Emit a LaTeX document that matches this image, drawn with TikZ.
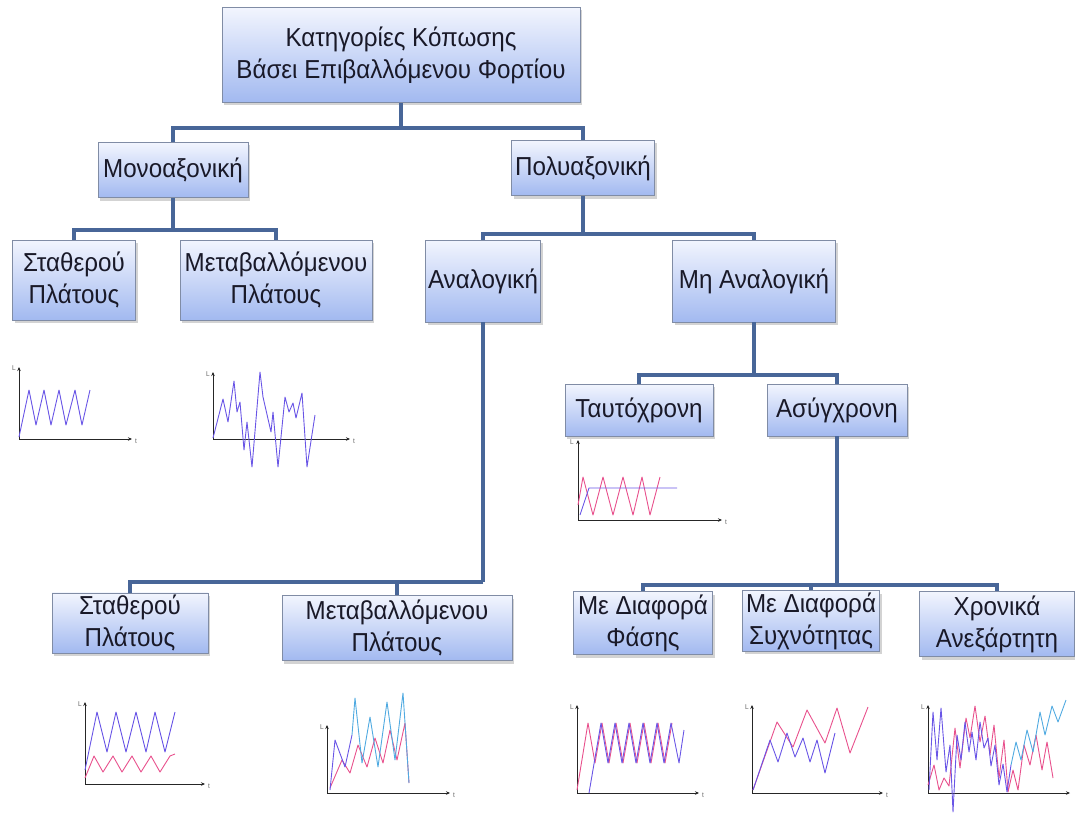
\documentclass[tikz,border=0pt]{standalone}
\usepackage{fontspec}
\setmainfont{Liberation Sans}[FakeStretch=0.93]
\usetikzlibrary{shadows,arrows.meta}
\definecolor{boxtop}{RGB}{242,245,254}
\definecolor{boxbot}{RGB}{162,185,240}
\definecolor{boxedge}{RGB}{128,140,165}
\definecolor{connc}{RGB}{72,102,152}
\definecolor{txtc}{RGB}{25,25,40}
\definecolor{gpurple}{RGB}{105,85,230}
\definecolor{gpink}{RGB}{232,80,140}
\definecolor{gcyan}{RGB}{80,170,225}
\tikzset{
  box/.style={draw=boxedge, line width=0.8pt, top color=boxtop, bottom color=boxbot,
    drop shadow={shadow xshift=2pt, shadow yshift=-3pt, opacity=0.35},
    align=center, text=txtc, inner sep=2pt, font=\fontsize{26}{32}\selectfont},
  conn/.style={draw=connc, line width=3.5pt},
  axis/.style={draw=black!85, line width=0.9pt, -{Stealth[length=4pt,width=3.5pt]}},
  axlab/.style={font=\fontsize{7}{8}\selectfont, text=black!60, inner sep=0pt},
  gline/.style={line width=0.9pt, line join=round}
}
\begin{document}
\begin{tikzpicture}[x=1pt,y=-1pt]
\useasboundingbox (0,0) rectangle (1075,813);
% ---------- boxes ----------
\node[box, minimum width=358pt, minimum height=95pt] (root) at (401,55) {Κατηγορίες Κόπωσης\\Βάσει Επιβαλλόμενου Φορτίου};
\node[box, minimum width=150pt, minimum height=55pt] (mono) at (173,170) {Μονοαξονική};
\node[box, minimum width=143pt, minimum height=55pt] (poly) at (583,168) {Πολυαξονική};
\node[box, minimum width=123pt, minimum height=80pt] (s1) at (74,280) {Σταθερού\\Πλάτους};
\node[box, minimum width=192pt, minimum height=80pt] (m1) at (276,280) {Μεταβαλλόμενου\\Πλάτους};
\node[box, minimum width=115pt, minimum height=82pt] (anal) at (483,281) {Αναλογική};
\node[box, minimum width=163pt, minimum height=82pt] (nanal) at (754,281) {Μη Αναλογική};
\node[box, minimum width=148pt, minimum height=52pt] (tauto) at (639,410) {Ταυτόχρονη};
\node[box, minimum width=140pt, minimum height=52pt] (async) at (837,410) {Ασύγχρονη};
\node[box, minimum width=156pt, minimum height=55pt] (s2) at (130,623) {Σταθερού\\Πλάτους};
\node[box, minimum width=230pt, minimum height=65pt] (m2) at (397,628) {Μεταβαλλόμενου\\Πλάτους};
\node[box, minimum width=139pt, minimum height=63pt] (phase) at (643,623) {Με Διαφορά\\Φάσης};
\node[box, minimum width=137pt, minimum height=58pt] (freq) at (811,621) {Με Διαφορά\\Συχνότητας};
\node[box, minimum width=155pt, minimum height=65pt] (indep) at (997,624) {Χρονικά\\Ανεξάρτητη};
% ---------- connectors ----------
\coordinate (j1) at (401,128);
\coordinate (j2) at (173,230);
\coordinate (j3) at (583,234);
\coordinate (j4) at (754,375);
\coordinate (j5) at (483,582);
\coordinate (j6) at (837,585);
\draw[conn] (root.south) -- (j1);
\draw[conn] (mono.north) |- (j1) -| (poly.north);
\draw[conn] (mono.south) -- (j2);
\draw[conn] (s1.north) |- (j2) -| (m1.north);
\draw[conn] (poly.south) -- (j3);
\draw[conn] (anal.north) |- (j3) -| (nanal.north);
\draw[conn] (nanal.south) -- (j4);
\draw[conn] (tauto.north) |- (j4) -| (async.north);
\draw[conn] (anal.south) -- (j5);
\draw[conn] (j5) -| (s2.north);
\draw[conn] (j5) -| (m2.north);
\draw[conn] (async.south) -- (j6);
\draw[conn] (phase.north) |- (j6) -| (indep.north);
\draw[conn] (j6) -| (freq.north);
% ---------- graph 1 ----------
\draw[axis] (19,439) -- (19,367);
\draw[axis] (19,439) -- (132,439);
\node[axlab] at (14,368) {L};
\node[axlab] at (136,441) {t};
\draw[gline, gpurple] (19,437) -- (29,390) -- (36,425) -- (44,390) -- (51,425) -- (59,390) -- (66,425) -- (75,390) -- (82,425) -- (90,390);
% ---------- graph 2 ----------
\draw[axis] (213,439) -- (213,372);
\draw[axis] (213,439) -- (350,439);
\node[axlab] at (208,374) {L};
\node[axlab] at (354,441) {t};
\draw[gline, gpurple] (213,438) -- (223,399) -- (228,422) -- (234,381) -- (237,412) -- (240,402) -- (244,450) -- (247,422) -- (252,467) -- (260,372) -- (263,397) -- (271,432) -- (273,412) -- (278,467) -- (285,397) -- (289,412) -- (293,403) -- (296,418) -- (302,393) -- (307,467) -- (315,415);
% ---------- graph 3 ----------
\draw[axis] (578,520) -- (578,440);
\draw[axis] (578,520) -- (722,520);
\node[axlab] at (572,442) {L};
\node[axlab] at (726,522) {t};
\draw[gline, gpink] (578,505) -- (583,477) -- (593,515) -- (603,477) -- (613,515) -- (623,477) -- (633,515) -- (642,477) -- (650,515) -- (660,477);
\draw[gline, gpurple] (580,515) -- (589,488) -- (677,488);
% ---------- graph 4 ----------
\draw[axis] (85,784) -- (85,702);
\draw[axis] (85,784) -- (205,784);
\node[axlab] at (80,704) {L};
\node[axlab] at (209,786) {t};
\draw[gline, gpurple] (85,770) -- (97,712) -- (107,752) -- (116,712) -- (126,752) -- (136,712) -- (146,752) -- (155,712) -- (165,752) -- (175,712);
\draw[gline, gpink] (85,778) -- (94,756) -- (103,772) -- (113,756) -- (122,772) -- (132,756) -- (141,772) -- (151,756) -- (160,772) -- (170,756) -- (175,754);
% ---------- graph 5 ----------
\draw[axis] (327,793) -- (327,725);
\draw[axis] (327,793) -- (450,793);
\node[axlab] at (322,727) {L};
\node[axlab] at (454,795) {t};
\draw[gline, gpink] (330,788) -- (342,760) -- (350,773) -- (358,745) -- (367,767) -- (375,738) -- (383,763) -- (390,730) -- (397,760) -- (405,723) -- (409,783);
\draw[gline, gpurple] (330,790) -- (335,740) -- (345,767) -- (352,735);
\draw[gline, gcyan] (352,735) -- (355,698) -- (362,763) -- (370,717) -- (378,767) -- (387,702) -- (395,760) -- (403,693) -- (409,783);
% ---------- graph 6 ----------
\draw[axis] (577,793) -- (577,705);
\draw[axis] (577,793) -- (699,793);
\node[axlab] at (572,707) {L};
\node[axlab] at (703,795) {t};
\draw[gline, gpink] (577,790) -- (588,723) -- (595,763) -- (602,723) -- (609,763) -- (616,723) -- (623,763) -- (630,723) -- (637,763) -- (644,723) -- (651,763) -- (658,723) -- (665,763) -- (672,723);
\draw[gline, gpurple] (589,793) -- (601,723) -- (608,763) -- (615,723) -- (622,763) -- (629,723) -- (636,763) -- (643,723) -- (650,763) -- (657,723) -- (664,763) -- (671,723) -- (679,763) -- (684,730);
% ---------- graph 7 ----------
\draw[axis] (752,793) -- (752,705);
\draw[axis] (752,793) -- (883,793);
\node[axlab] at (747,707) {L};
\node[axlab] at (887,795) {t};
\draw[gline, gpink] (753,790) -- (777,722) -- (793,747) -- (807,710) -- (825,743) -- (837,708) -- (850,753) -- (868,707);
\draw[gline, gpurple] (753,790) -- (770,740) -- (778,762) -- (787,733) -- (795,757) -- (803,738) -- (810,762) -- (817,740) -- (825,773) -- (835,733);
% ---------- graph 8 ----------
\draw[axis] (928,793) -- (928,705);
\draw[axis] (928,793) -- (1070,793);
\node[axlab] at (923,707) {L};
\draw[gline, gpink] (928,785) -- (934,765) -- (939,790) -- (944,778) -- (949,786) -- (955,728) -- (960,768) -- (966,718) -- (970,738) -- (975,706) -- (980,742) -- (985,716) -- (990,755) -- (994,725) -- (999,778) -- (1004,740) -- (1008,792) -- (1013,770) -- (1018,790) -- (1024,745) -- (1030,765) -- (1036,735) -- (1042,770) -- (1047,742) -- (1053,778);
\draw[gline, gpurple] (929,790) -- (933,712) -- (937,760) -- (941,708) -- (946,772) -- (950,745) -- (953,812) -- (957,735) -- (961,760) -- (965,722) -- (969,752) -- (972,732) -- (976,760) -- (980,722) -- (984,748) -- (988,738) -- (991,766) -- (995,745) -- (999,785) -- (1003,764) -- (1007,792) -- (1011,765);
\draw[gline, gcyan] (1011,765) -- (1016,742) -- (1021,760) -- (1027,730) -- (1033,752) -- (1040,712) -- (1045,735) -- (1052,706) -- (1058,722) -- (1066,700);
\end{tikzpicture}
\end{document}
